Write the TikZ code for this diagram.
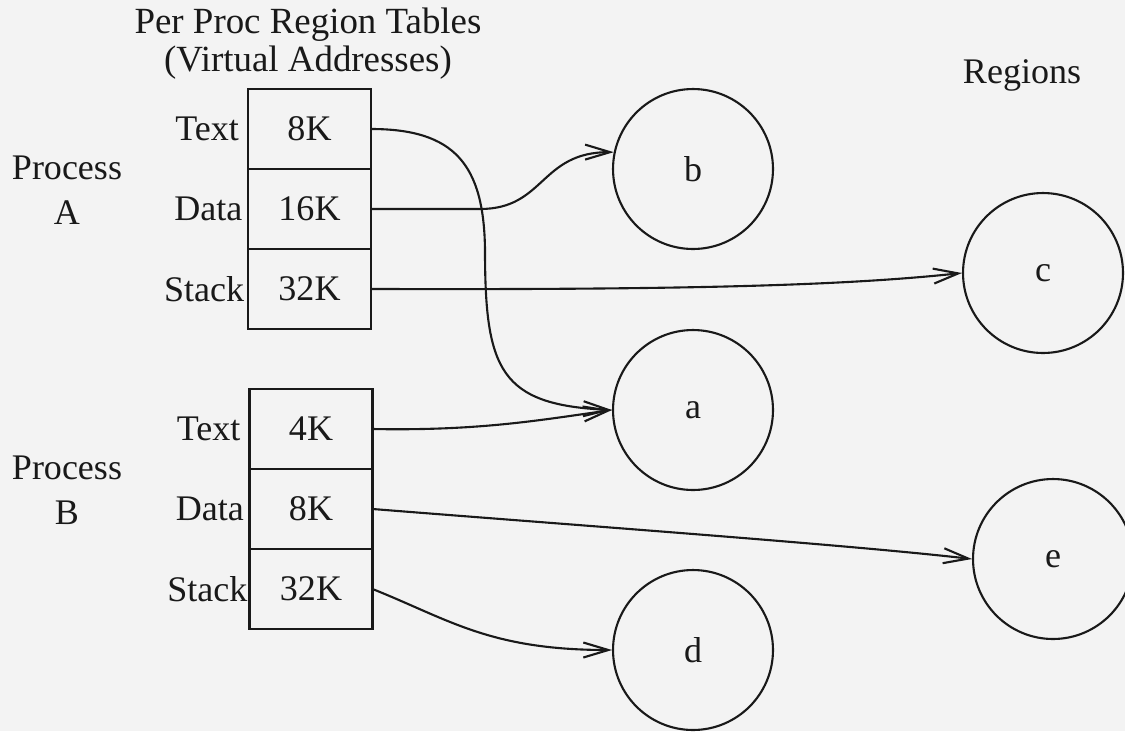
\documentclass[tikz,border=0pt]{standalone}
\usepackage{fontspec}
\setmainfont{Liberation Serif}
\usepackage{xcolor}
\usepackage{tikz}
\usetikzlibrary{positioning, arrows.meta}
\definecolor{paper}{RGB}{243,243,243}
\definecolor{ink}{RGB}{25,25,25}
\tikzset{
    cell/.style={draw=ink, line width=1.4pt, minimum width=2.46cm, minimum height=1.6cm, inner sep=0pt, outer sep=0pt},
    seglabel/.style={inner sep=0pt},
    region/.style={circle, draw=ink, line width=1.2pt, minimum size=3.2cm, inner sep=0pt},
    link/.style={draw=ink, line width=1.2pt, -{Straight Barb[length=0.5cm, width=0.3cm]}}
}

\begin{document}
\begin{tikzpicture}[x=0.02cm, y=-0.02cm, font=\fontsize{20.5}{21}\selectfont, text=ink]
    % Page and headings
    \clip (0,0) rectangle (1125,731);
    \fill[paper] (0,0) rectangle (1125,731);
    \node[align=center, font=\fontsize{21}{21.5}\selectfont] (title) at (308,44) {Per Proc Region Tables\\(Virtual Addresses)};
    \node (regions) at (1022,75) {Regions};

    % Process A region table
    \node[cell] (a1) at (309.5,129) {8K};
    \node[cell, below=0pt of a1] (a2) {16K};
    \node[cell, below=0pt of a2] (a3) {32K};
    \node[seglabel, left=5pt of a1] (la1) {Text};
    \node[seglabel, left=3pt of a2] (la2) {Data};
    \node[seglabel, left=2pt of a3] (la3) {Stack};
    \node[align=center, font=\fontsize{20.5}{25.6}\selectfont] (procA) at (67,190) {Process\\A};

    % Process B region table
    \node[cell] (b1) at (311,429) {4K};
    \node[cell, below=0pt of b1] (b2) {8K};
    \node[cell, below=0pt of b2] (b3) {32K};
    \node[seglabel, left=5pt of b1] (lb1) {Text};
    \node[seglabel, left=3pt of b2] (lb2) {Data};
    \node[seglabel, left=1pt of b3] (lb3) {Stack};
    \node[align=center, font=\fontsize{20.5}{25.6}\selectfont] (procB) at (67,490) {Process\\B};

    % Regions
    \node[region] (rb) at (693,169) {b};
    \node[region] (rc) at (1043,273) {c};
    \node[region] (ra) at (693,410) {a};
    \node[region] (re) at (1053,559) {e};
    \node[region] (rd) at (693,650) {d};

    % Pointers from the tables to the regions
    \draw[link] (a1.east) .. controls (455,129) and (484,165) .. (485,250)
                          .. controls (485,370) and (500,405) .. (ra.west);
    \draw[link] (a2.east) -- (480,209) .. controls (545,209) and (540,152) .. (rb.168);
    \draw[link] (a3.east) .. controls (700,290) and (850,285) .. (rc.west);
    \draw[link] (b1.east) .. controls (480,431) and (540,420) .. (ra.west);
    \draw[link] (b2.east) .. controls (600,527) and (850,545) .. (re.west);
    \draw[link] (b3.east) .. controls (450,620) and (490,650) .. (rd.west);
\end{tikzpicture}
\end{document}
